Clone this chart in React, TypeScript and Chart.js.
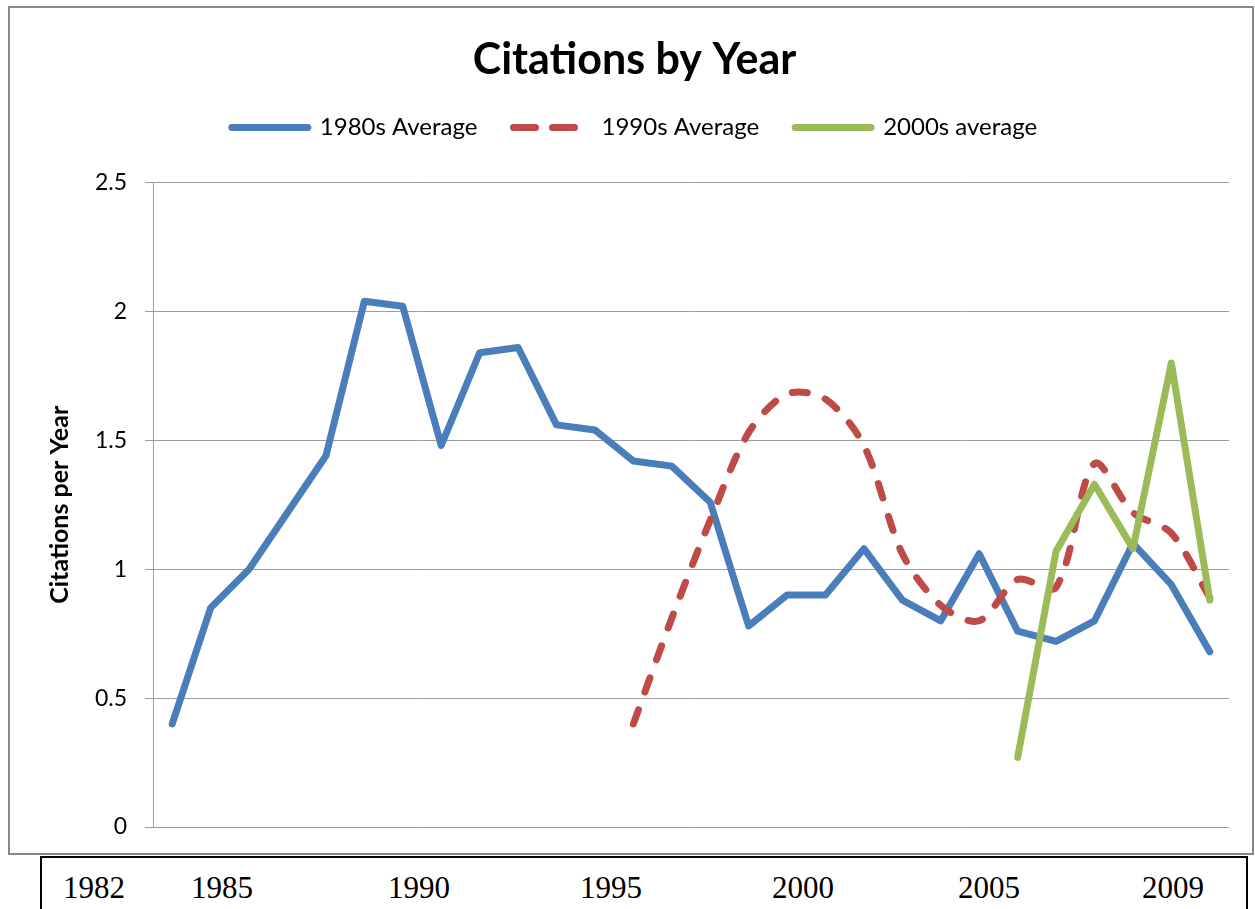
import React, { useEffect, useRef } from "react";
import { Chart, registerables } from "chart.js";

Chart.register(...registerables);

// ---- data ----
const years = [
  "1983", "1984", "1985", "1986", "1987", "1988", "1989", "1990", "1991", "1992",
  "1993", "1994", "1995", "1996", "1997", "1998", "1999", "2000", "2001", "2002",
  "2003", "2004", "2005", "2006", "2007", "2008", "2009", "2010",
];

const avg1980s = [
  0.40, 0.85, 1.00, 1.22, 1.44, 2.04, 2.02, 1.48, 1.84, 1.86,
  1.56, 1.54, 1.42, 1.40, 1.26, 0.78, 0.90, 0.90, 1.08, 0.88,
  0.80, 1.06, 0.76, 0.72, 0.80, 1.10, 0.94, 0.68,
];

const avg1990s = [
  null, null, null, null, null, null, null, null, null, null,
  null, null, 0.40, 0.81, 1.19, 1.53, 1.68, 1.66, 1.48, 1.06,
  0.86, 0.80, 0.96, 0.93, 1.41, 1.22, 1.14, 0.89,
];

const avg2000s = [
  null, null, null, null, null, null, null, null, null, null,
  null, null, null, null, null, null, null, null, null, null,
  null, null, 0.27, 1.07, 1.33, 1.08, 1.80, 0.88,
];

const yTickValues = [0, 0.5, 1, 1.5, 2, 2.5];
const bottomYearLabels = ["1982", "1985", "1990", "1995", "2000", "2005", "2009"];

// ---- layout (page coordinates) ----
const bottomLabelCenters = [94, 222, 419, 611, 803, 989, 1173];

const BLUE = "#4a7ebb";
const RED = "#be4b48";
const GREEN = "#9bbb59";
const GRID = "#9d9d9d";

export default function App() {
  const canvasRef = useRef<HTMLCanvasElement | null>(null);

  useEffect(() => {
    const canvas = canvasRef.current;
    if (!canvas) return;

    const legendGap = {
      id: "legendGap",
      beforeInit(chart: any) {
        const legend = chart.legend;
        if (!legend) return;
        const origFit = legend.fit;
        legend.fit = function () {
          origFit.call(this);
          this.height += 33;
        };
      },
    };

    const chart = new Chart(canvas, {
      type: "line",
      data: {
        labels: years,
        datasets: [
          {
            label: "1980s Average",
            data: avg1980s,
            borderColor: BLUE,
            backgroundColor: BLUE,
            borderWidth: 7,
            pointRadius: 0,
            borderCapStyle: "round",
            borderJoinStyle: "round",
            tension: 0,
            order: 3,
          },
          {
            label: "1990s Average",
            data: avg1990s,
            borderColor: RED,
            backgroundColor: RED,
            borderWidth: 7,
            pointRadius: 0,
            borderDash: [15, 19],
            borderCapStyle: "round",
            borderJoinStyle: "round",
            tension: 0.3,
            order: 2,
          },
          {
            label: "2000s average",
            data: avg2000s,
            borderColor: GREEN,
            backgroundColor: GREEN,
            borderWidth: 7,
            pointRadius: 0,
            borderCapStyle: "round",
            borderJoinStyle: "round",
            tension: 0,
            order: 1,
          },
        ] as any,
      },
      options: {
        responsive: false,
        animation: false,
        layout: { padding: { left: 30, right: 23, top: 0, bottom: 26 } },
        plugins: {
          title: {
            display: true,
            text: "Citations by Year",
            color: "#000",
            font: { family: "Lato", size: 43, weight: "bold" },
            padding: { top: 26, bottom: -6 },
          },
          legend: {
            display: true,
            position: "top",
            labels: {
              usePointStyle: true,
              pointStyle: "line",
              pointStyleWidth: 76,
              color: "#000",
              font: { family: "Lato", size: 24 },
              padding: 36,
              sort: (a: any, b: any) => a.datasetIndex - b.datasetIndex,
              generateLabels: (c: any) =>
                c.data.datasets.map((ds: any, i: number) => ({
                  text: ds.label,
                  datasetIndex: i,
                  fillStyle: ds.borderColor,
                  strokeStyle: ds.borderColor,
                  fontColor: "#000",
                  lineWidth: 7,
                  lineCap: "round",
                  lineJoin: "round",
                  lineDash: ds.borderDash ? [22, 17] : [],
                  pointStyle: "line",
                  hidden: false,
                })),
            },
          },
          tooltip: { enabled: false },
        },
        scales: {
          x: {
            type: "category",
            display: false,
            offset: true,
          },
          y: {
            min: 0,
            max: 2.5,
            afterFit: (s: any) => {
              s.width = 113;
            },
            afterBuildTicks: (s: any) => {
              s.ticks = yTickValues.map((v) => ({ value: v }));
            },
            ticks: {
              padding: 18,
              color: "#000",
              font: { family: "Lato", size: 23, lineHeight: 0.5 },
              callback: (v: any) => String(v),
            },
            grid: {
              color: GRID,
              lineWidth: 1,
              tickLength: 8,
              drawTicks: true,
            },
            border: { display: true, color: GRID, width: 1 },
            title: {
              display: true,
              text: "Citations per Year",
              color: "#000",
              font: { family: "Lato", size: 25, weight: "bold" },
              padding: { top: 5, bottom: 0 },
            },
          },
        },
      },
      plugins: [legendGap],
    } as any);

    return () => {
      chart.destroy();
    };
  }, []);

  return (
    <div
      style={{
        position: "fixed",
        left: 0,
        top: 0,
        width: 1255,
        height: 909,
        background: "#fff",
        overflow: "hidden",
      }}
    >
      <div
        style={{
          position: "absolute",
          left: 8,
          top: 6,
          width: 1246,
          height: 849,
          border: "2px solid #888888",
          boxSizing: "border-box",
          background: "#fff",
        }}
      >
        <canvas
          ref={canvasRef}
          width={1242}
          height={845}
          style={{ display: "block", width: 1242, height: 845 }}
        />
      </div>
      <div
        style={{
          position: "absolute",
          left: 40,
          top: 856,
          width: 1208,
          height: 80,
          border: "2px solid #000",
          boxSizing: "border-box",
          background: "#fff",
        }}
      />
      {bottomYearLabels.map((t, i) => (
        <span
          key={t}
          style={{
            position: "absolute",
            left: bottomLabelCenters[i],
            top: 887,
            transform: "translate(-50%, -50%)",
            fontFamily: "'Liberation Serif', 'Times New Roman', serif",
            fontSize: 31,
            lineHeight: 1,
            color: "#000",
            whiteSpace: "nowrap",
          }}
        >
          {t}
        </span>
      ))}
    </div>
  );
}
